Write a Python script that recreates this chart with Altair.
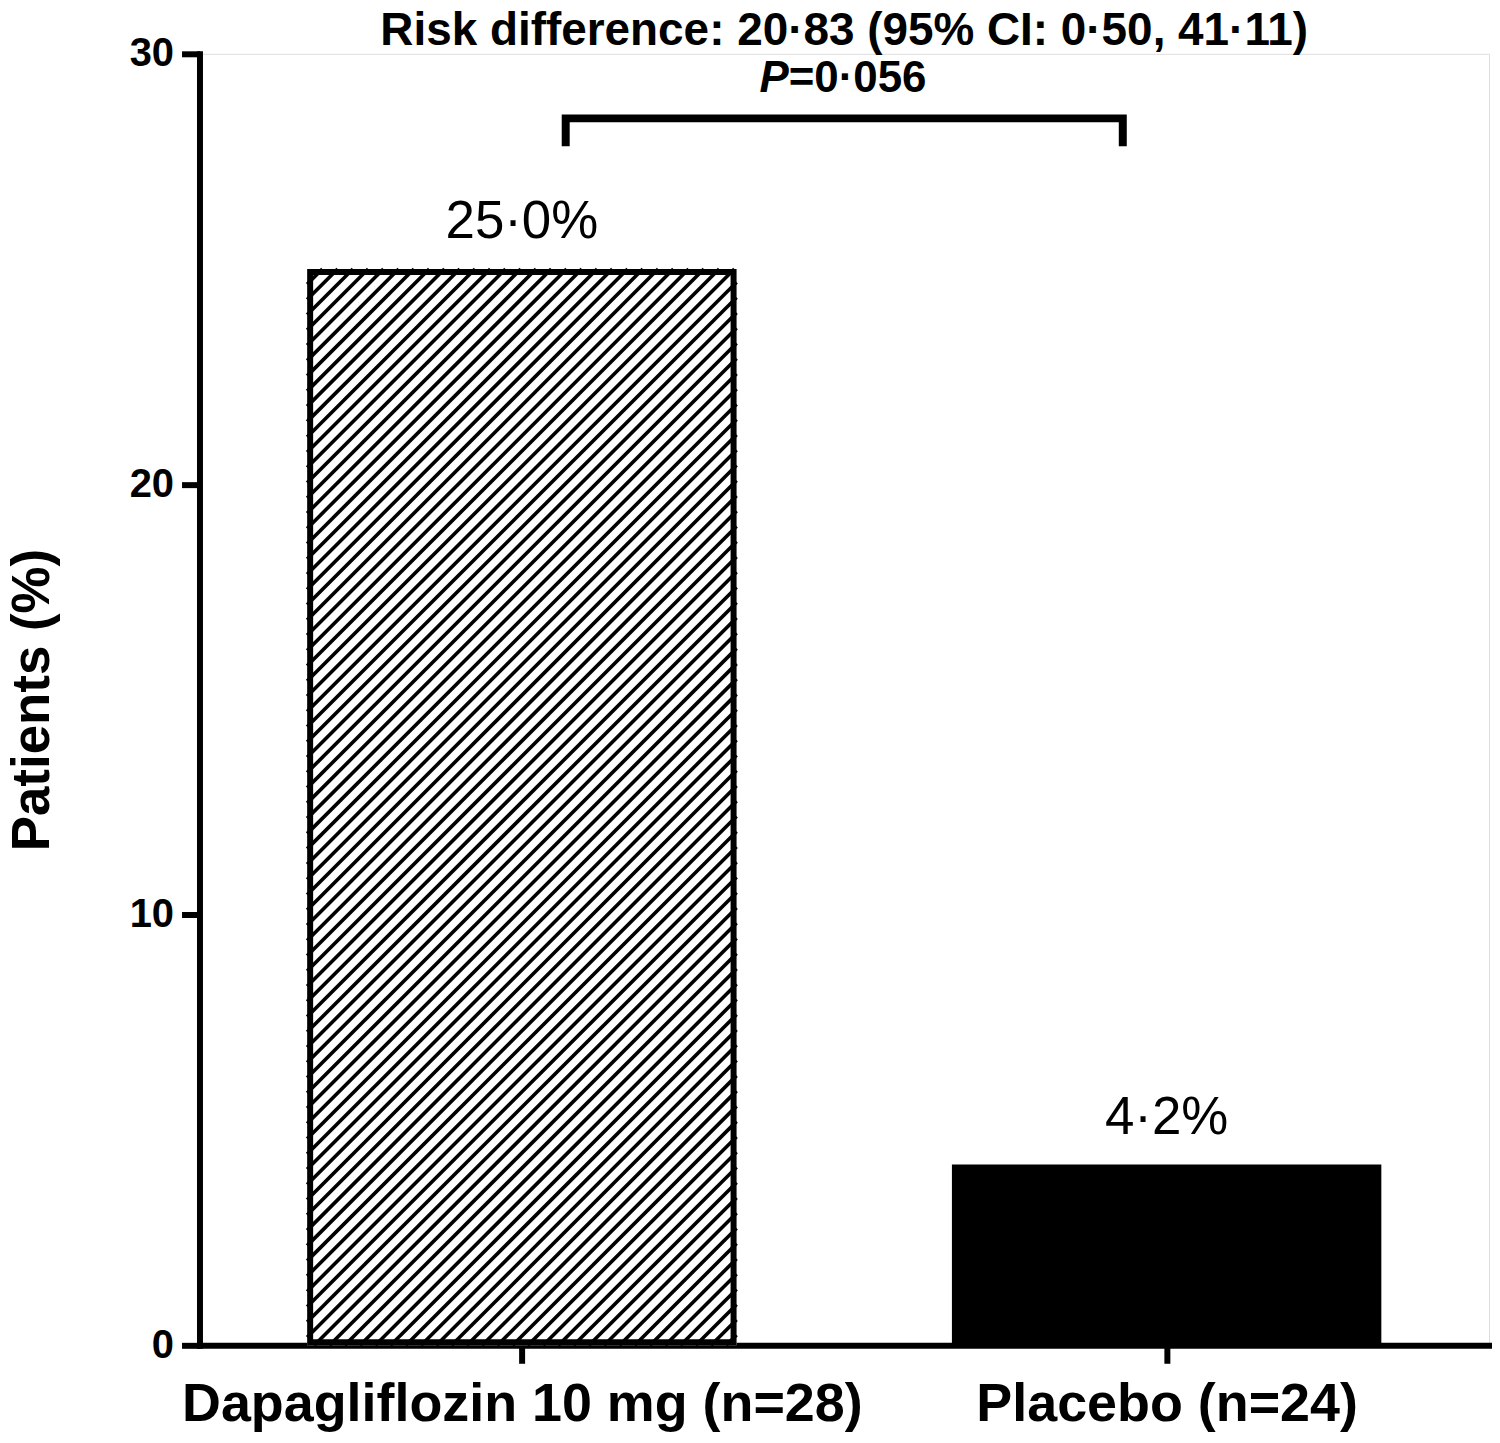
import altair as alt
import pandas as pd

# ---------------- data ----------------
GROUPS = ["Dapagliflozin 10 mg (n=28)", "Placebo (n=24)"]
PCT = [25.0, 4.2]
HATCHED = [True, False]
FILLS = ["white", "black"]
POS = [1, 2]
Y_TICKS = [0, 10, 20, 30]
Y_TITLE = "Patients (%)"
TITLE_LINE1 = "Risk difference: 20·83 (95% CI: 0·50, 41·11)"
P_LETTER = "P"
P_REST = "=0·056"

# ---------------- layout ----------------
FONT = "Liberation Sans"
W, H = 1293, 1295
XDOM = [0.5, 2.5]
YDOM = [0, 30]
KX = W / (XDOM[1] - XDOM[0])   # px per x unit
KY = H / (YDOM[1] - YDOM[0])   # px per y unit
HALF = 0.333                   # half bar width (x units)
OUTLINE = 6                    # outline stroke px
HATCH_STEP = 15.3              # px between hatch lines (horizontal)

labels = [f"{v:.1f}".replace(".", "·") + "%" for v in PCT]

bars = pd.DataFrame({
    "group": GROUPS,
    "x": [p - HALF for p in POS],
    "x2": [p + HALF for p in POS],
    "pct": PCT,
    "zero": [0] * len(PCT),
    "fill": FILLS,
    "pos": POS,
    "label": labels,
})

# outline (inset so the outer edge matches the bar edge)
hb = bars[HATCHED].copy()
ix = (OUTLINE / 2) / KX
iy = (OUTLINE / 2) / KY
hb["ox"] = hb["x"] + ix
hb["ox2"] = hb["x2"] - ix
hb["oy"] = hb["pct"] - iy
hb["oy2"] = hb["zero"] + iy

# hatch segments, derived from the bar rectangles
segs = []
for _, r in hb.iterrows():
    wb = (r["x2"] - r["x"]) * KX
    hpx = r["pct"] * KY
    c = -hpx
    while c < wb:
        u0 = max(0.0, c)
        u1 = min(wb, c + hpx)
        if u1 > u0:
            segs.append({
                "x": r["x"] + u0 / KX, "y": (u0 - c) / KY,
                "x2": r["x"] + u1 / KX, "y2": (u1 - c) / KY,
            })
        c += HATCH_STEP
hatch = pd.DataFrame(segs)

xscale = alt.Scale(domain=XDOM, nice=False, zero=False)
yscale = alt.Scale(domain=YDOM, nice=False)

label_expr = " : ".join(
    [f"datum.value == {p} ? '{g}'" for p, g in zip(POS, GROUPS)]
) + " : ''"

xaxis = alt.Axis(
    values=POS, labelExpr=label_expr, title=None, grid=False,
    tickSize=18, tickWidth=OUTLINE, tickColor="black",
    domainWidth=OUTLINE, domainColor="black", domainCap="square",
    labelFont=FONT, labelFontSize=54, labelFontWeight="bold",
    labelColor="black", labelPadding=14, labelFlush=False, labelOverlap=False,
    labelLimit=0,
)
yaxis = alt.Axis(
    values=Y_TICKS, title=Y_TITLE, grid=False,
    tickSize=18, tickWidth=OUTLINE, tickColor="black",
    domainWidth=OUTLINE, domainColor="black", domainCap="square",
    labelFont=FONT, labelFontSize=40, labelFontWeight="bold",
    labelColor="black", labelPadding=8,
    titleFont=FONT, titleFontSize=53, titleFontWeight="bold",
    titleColor="black", titlePadding=70,
)

base = alt.Chart(bars)

bar_layer = base.mark_bar().encode(
    x=alt.X("x:Q", scale=xscale, axis=xaxis),
    x2="x2:Q",
    y=alt.Y("pct:Q", scale=yscale, axis=yaxis),
    y2="zero:Q",
    fill=alt.Fill("fill:N", scale=None),
)

hatch_layer = alt.Chart(hatch).mark_rule(
    color="black", strokeWidth=3.6, strokeCap="butt"
).encode(
    x=alt.X("x:Q", scale=xscale), y=alt.Y("y:Q", scale=yscale),
    x2="x2:Q", y2="y2:Q",
)

outline_layer = alt.Chart(hb).mark_bar(
    fill=None, stroke="black", strokeWidth=OUTLINE, strokeJoin="miter"
).encode(
    x=alt.X("ox:Q", scale=xscale), x2="ox2:Q",
    y=alt.Y("oy:Q", scale=yscale), y2="oy2:Q",
)

value_layer = base.mark_text(
    font=FONT, fontSize=53, fontWeight="normal", color="black",
    baseline="alphabetic", align="center", dy=-31,
).encode(
    x=alt.X("pos:Q", scale=xscale), y=alt.Y("pct:Q", scale=yscale),
    text="label:N",
)

# annotation: bracket + text
BR_XL, BR_XR = 1.068, 1.932
BR_TOP, BR_BOT = 28.5, 27.85
bracket = pd.DataFrame({
    "x": [BR_XL, BR_XL, BR_XR, BR_XR],
    "y": [BR_BOT, BR_TOP, BR_TOP, BR_BOT],
    "o": [0, 1, 2, 3],
})
bracket_layer = alt.Chart(bracket).mark_line(
    color="black", strokeWidth=8, strokeCap="butt", strokeJoin="miter"
).encode(
    x=alt.X("x:Q", scale=xscale), y=alt.Y("y:Q", scale=yscale), order="o:Q",
)

title_df = pd.DataFrame({"x": [1.5], "y": [30.2], "t": [TITLE_LINE1]})
title_layer = alt.Chart(title_df).mark_text(
    font=FONT, fontSize=46, fontWeight="bold", color="black",
    baseline="alphabetic", align="center",
).encode(x=alt.X("x:Q", scale=xscale), y=alt.Y("y:Q", scale=yscale), text="t:N")

P_SPLIT = 1.4138
p_df = pd.DataFrame({"x": [P_SPLIT], "y": [29.12], "a": [P_LETTER], "b": [P_REST]})
p1_layer = alt.Chart(p_df).mark_text(
    font=FONT, fontSize=44, fontWeight="bold", fontStyle="italic", color="black",
    baseline="alphabetic", align="right",
).encode(x=alt.X("x:Q", scale=xscale), y=alt.Y("y:Q", scale=yscale), text="a:N")
p2_layer = alt.Chart(p_df).mark_text(
    font=FONT, fontSize=44, fontWeight="bold", color="black",
    baseline="alphabetic", align="left",
).encode(x=alt.X("x:Q", scale=xscale), y=alt.Y("y:Q", scale=yscale), text="b:N")

chart = alt.layer(
    bar_layer, hatch_layer, outline_layer, value_layer,
    bracket_layer, title_layer, p1_layer, p2_layer,
).properties(
    width=W, height=H,
    autosize=alt.AutoSizeParams(type="none"),
    padding={"left": 192, "top": 44, "right": 3, "bottom": 90},
).configure_view(stroke=None).configure(background="white")

chart.save("out.html", embed_options={"renderer": "svg", "actions": False})
